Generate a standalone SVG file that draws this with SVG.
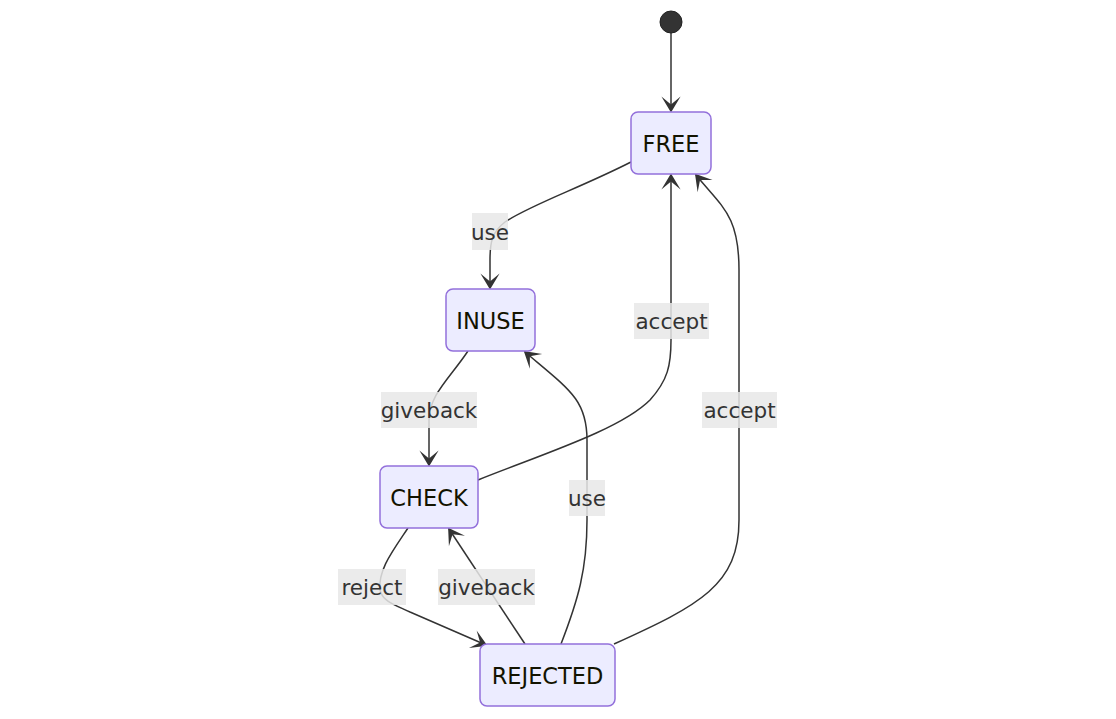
<svg xmlns="http://www.w3.org/2000/svg" width="1116" height="719" viewBox="0 0 1116 719">
<defs>
<style>
.node rect{fill:#ECECFF;stroke:#9370DB;stroke-width:1.5}
.node text{font-family:"DejaVu Sans","Liberation Sans",sans-serif;font-size:22.5px;fill:#131300;text-anchor:middle;dominant-baseline:central}
.edge{fill:none;stroke:#333;stroke-width:1.5;marker-end:url(#arr)}
.lbl rect{fill:#e8e8e8;opacity:0.85}
.lbl text{font-family:"DejaVu Sans","Liberation Sans",sans-serif;font-size:21.5px;fill:#333;text-anchor:middle;dominant-baseline:central}
</style>
<marker id="arr" viewBox="0 0 20 14" refX="18" refY="7" markerWidth="32" markerHeight="22.4" markerUnits="userSpaceOnUse" orient="auto">
<path d="M19,7 L9,13 L14,7 L9,1 Z" fill="#333"/>
</marker>
</defs>
<rect width="1116" height="719" fill="#fff"/>
<g id="connectors">
<path class="edge" d="M671,33 L671,111"/>
<path class="edge" d="M631,162 C580,188 530,205 505,222 C492,232 490,242 490,260 L490,288"/>
<path class="edge" d="M468,351 C450,378 429,395 429,420 L429,465"/>
<path class="edge" d="M478,480 C540,455 620,430 650,400 C668,380 671,365 671,340 L671,175"/>
<path class="edge" d="M614,644 C700,605 739,585 739,520 L739,270 C739,215 722,207 696,175"/>
<path class="edge" d="M561,644 C578,600 587,570 587,520 L587,440 C587,400 570,390 525,352"/>
<path class="edge" d="M525,644 L449,529"/>
<path class="edge" d="M408,528 C392,552 378,570 380,590 C383,602 395,605 410,612 L486,645"/>
</g>
<g id="edge-labels">
<g class="lbl"><rect x="472" y="213" width="36" height="37"/><text x="490" y="232">use</text></g>
<g class="lbl"><rect x="381" y="392" width="96" height="36"/><text x="429" y="410">giveback</text></g>
<g class="lbl"><rect x="634" y="303" width="75" height="36"/><text x="671.5" y="321">accept</text></g>
<g class="lbl"><rect x="702" y="392" width="75" height="36"/><text x="739.5" y="410">accept</text></g>
<g class="lbl"><rect x="569" y="480" width="36" height="36"/><text x="587" y="498">use</text></g>
<g class="lbl"><rect x="438" y="569" width="97" height="36"/><text x="486.5" y="587">giveback</text></g>
<g class="lbl"><rect x="338" y="569" width="68" height="36"/><text x="372" y="587">reject</text></g>
</g>
<g id="start"><circle cx="671" cy="22" r="11" fill="#333" stroke="#222" stroke-width="1"/></g>
<g id="FREE" class="node"><rect x="631" y="112" width="80" height="62" rx="7"/><text x="671" y="144">FREE</text></g>
<g id="INUSE" class="node"><rect x="446" y="289" width="89" height="62" rx="7"/><text x="490.5" y="321">INUSE</text></g>
<g id="CHECK" class="node"><rect x="380" y="466" width="98" height="62" rx="7"/><text x="429" y="498">CHECK</text></g>
<g id="REJECTED" class="node"><rect x="480" y="644" width="135" height="62" rx="7"/><text x="547.5" y="676">REJECTED</text></g>
</svg>
